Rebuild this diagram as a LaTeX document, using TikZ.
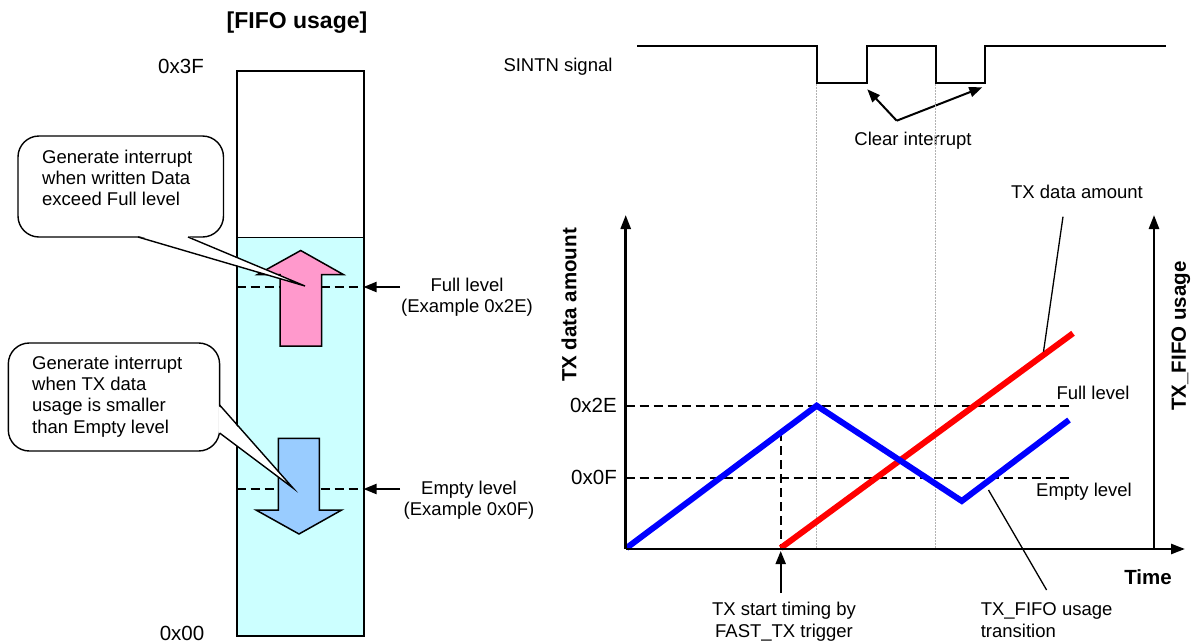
\documentclass[tikz,border=0pt]{standalone}
\usepackage{fontspec}
\setmainfont{Liberation Sans}
\usetikzlibrary{arrows.meta}

\definecolor{fifocyan}{HTML}{CCFFFF}
\definecolor{uppink}{HTML}{FF99CC}
\definecolor{downblue}{HTML}{99CCFF}

\tikzset{
  txt/.style={font=\fontsize{18.5}{21.3}\selectfont, inner sep=0pt, align=center},
  txtl/.style={font=\fontsize{18.5}{21.3}\selectfont, inner sep=0pt, align=left},
  hexlbl/.style={font=\fontsize{20.5}{24}\selectfont, inner sep=0pt},
  boldlbl/.style={font=\fontsize{20.5}{24}\selectfont\bfseries, inner sep=0pt},
  titlelbl/.style={font=\fontsize{23}{27}\selectfont\bfseries, inner sep=0pt},
  dashline/.style={dash pattern=on 9pt off 5pt, line width=2pt},
  dotline/.style={black!30, dash pattern=on 1.5pt off 1.5pt, line width=1pt},
  calloutline/.style={line width=1.4pt},
  bigarrow/.style={draw, line width=1.5pt, line join=miter},
  plotline/.style={line width=6pt, line join=miter},
  axisline/.style={line width=2.6pt, -{Triangle[length=14pt,width=10pt]}},
  ptr/.style={line width=2pt, -{Triangle[length=13pt,width=10pt]}},
  thinptr/.style={line width=1.3pt},
}

\begin{document}
\begin{tikzpicture}[x=1pt, y=-1pt]
\useasboundingbox (0,0) rectangle (1192,643);

% ---------------- FIFO column ----------------
\node[titlelbl] (title) at (297,23) {[FIFO usage]};

\fill[fifocyan] (236.7,237.3) rectangle (363.5,636);

% threshold lines inside the FIFO
\coordinate (fullL) at (236.7,287);
\coordinate (fullR) at (363.5,287);
\coordinate (emptyL) at (236.7,489);
\coordinate (emptyR) at (363.5,489);
\draw[dashline] (fullL) -- (fullR);
\draw[dashline] (emptyL) -- (emptyR);

% fill / drain arrows
\filldraw[bigarrow, fill=uppink] (280,346) -- (280,274.5) -- (257.5,274.5) -- (300.7,250.5)
  -- (343.3,274.5) -- (321.5,274.5) -- (321.5,346) -- cycle;
\filldraw[bigarrow, fill=downblue] (278.3,438.3) -- (319.3,438.3) -- (319.3,510) -- (341.7,510)
  -- (299,534) -- (256,510) -- (278.3,510) -- cycle;

\draw[line width=2pt] (236.7,71) rectangle (363.5,636);
\draw[line width=1.5pt] (236.7,237.3) -- (363.5,237.3);

\node[hexlbl] (top) at (181,66) {0x3F};
\node[hexlbl] (bottom) at (182,633) {0x00};

% callout: full level interrupt
\filldraw[calloutline, fill=white, rounded corners=21pt] (18,136) rectangle (223.5,237);
\coordinate (tipA) at (305,286);
\fill[white] (138.6,235.8) -- (tipA) -- (187.4,235.8) -- cycle;
\draw[calloutline] (138,237) -- (tipA) -- (188,237);
\node[txtl, anchor=north west] (noteA) at (42,149.5)
  {Generate interrupt\\when written Data\\exceed Full level};

% callout: empty level interrupt
\filldraw[calloutline, fill=white, rounded corners=21pt] (8.3,343) rectangle (219.6,451);
\coordinate (tipB) at (293,488);
\fill[white] (218.4,405.6) -- (tipB) -- (218.4,432.4) -- cycle;
\draw[calloutline] (219.6,405) -- (tipB) -- (219.6,433);
\node[txtl, anchor=north west] (noteB) at (32,355.5)
  {Generate interrupt\\when TX data\\usage is smaller\\than Empty level};

% level labels with pointers
\node[txt] (fullTxt) at (467,297.5) {Full level\\(Example 0x2E)};
\node[txt] (emptyTxt) at (469,500) {Empty level\\(Example 0x0F)};
\coordinate (fullArrowStart) at (400,287);
\coordinate (emptyArrowStart) at (400,489);
\draw[ptr] (fullArrowStart) -- (fullR);
\draw[ptr] (emptyArrowStart) -- (emptyR);

% ---------------- SINTN waveform ----------------
\node[txt] (sintn) at (558,67) {SINTN signal};
\draw[line width=2pt] (637,46) -- (816.7,46) -- (816.7,83.3) -- (866.7,83.3) -- (866.7,46)
  -- (935.7,46) -- (935.7,83.3) -- (985,83.3) -- (985,46) -- (1166,46);

\coordinate (clrJoin) at (896.7,120.7);
\coordinate (clr1) at (867.3,89.3);
\coordinate (clr2) at (982.3,87.3);
\draw[ptr] (clrJoin) -- (clr1);
\draw[ptr] (clrJoin) -- (clr2);
\node[txt] (clearTxt) at (913,141) {Clear interrupt};

\draw[dotline] (816.7,84) -- (816.7,548);
\draw[dotline] (935.7,84) -- (935.7,548);

% ---------------- chart ----------------
\coordinate (origin) at (625.7,549);
\coordinate (yTop) at (625.7,215);
\coordinate (xEnd) at (1185,549);
\coordinate (rBase) at (1154,549);
\coordinate (rTop) at (1154,215);

\draw[dashline] (625.7,405.7) -- (1070,405.7);
\draw[dashline] (625.7,477.7) -- (1071,477.7);
\draw[dashline] (780.7,432) -- (780.7,549);

\draw[plotline, red] (780.7,548) -- (1073,333.3);
\draw[plotline, blue] (626.5,548) -- (816.7,405.7) -- (961.8,501) -- (1069,420);

\draw[axisline] (origin) -- (yTop);
\draw[axisline] (origin) -- (xEnd);
\draw[axisline] (rBase) -- (rTop);

\node[hexlbl, anchor=east] (hexFull) at (617,405.7) {0x2E};
\node[hexlbl, anchor=east] (hexEmpty) at (617,477.7) {0x0F};
\node[txt] (fullLvl) at (1093,393) {Full level};
\node[txt] (emptyLvl) at (1084,492) {Empty level};

\node[boldlbl, rotate=90] (yLbl) at (569,305) {TX data amount};
\node[boldlbl, rotate=90] (rLbl) at (1181,336) {TX\_FIFO usage};
\node[boldlbl] (timeLbl) at (1148,577) {Time};

\node[txt] (amountTxt) at (1077,192) {TX data amount};
\coordinate (amountA) at (1063,216.7);
\coordinate (amountB) at (1043.5,351.7);
\draw[thinptr] (amountA) -- (amountB);

\node[txt] (startTxt) at (784,621.7) {TX start timing by\\FAST\_TX trigger};
\coordinate (startA) at (780.7,593);
\coordinate (startB) at (780.7,551);
\draw[ptr] (startA) -- (startB);

\node[txtl, anchor=west] (transTxt) at (980.6,620) {TX\_FIFO usage\\transition};
\coordinate (transA) at (988.5,490);
\coordinate (transB) at (1046.6,590);
\draw[thinptr] (transA) -- (transB);
\end{tikzpicture}
\end{document}
